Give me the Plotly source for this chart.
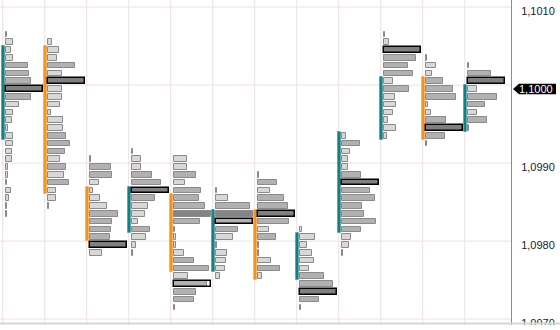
import plotly.graph_objects as go

TICK = 0.0001

# ---------------- data ----------------
# top price of each profile (price of first row), rows go down one tick each
profile_tops = [1.1007, 1.1006, 1.0991, 1.0992, 1.0991, 1.0987,
                1.0989, 1.0982, 1.0994, 1.1007, 1.1004, 1.1003]

# relative volume per price row (top to bottom)
vols_p1 = [1, 7.3, 5.3, 7.3, 22.3, 23.3, 25.3, 36.3, 25.3, 13.3, 7.3, 5.7,
           2.3, 6.7, 7.3, 5.7, 5.7, 2.3, 2, 1, 5.3, 3.3, 1, 1]
vols_p2 = [4.3, 10.7, 9.3, 27.3, 14.3, 36.7, 14.3, 14.3, 12.3, 3.3, 15.3,
           15.3, 18.3, 22.3, 17.3, 12.3, 18.3, 16.3, 21.3, 8.3, 8.3, 1]
vols_p3 = [1, 21.3, 22.3, 9.3, 3.3, 10.3, 17.3, 28.3, 22.3, 21.3, 20.3, 36.3, 12.3]
vols_p4 = [1, 8.7, 9.3, 20.3, 29.3, 36.7, 23.3, 16.3, 13.3, 6.3, 18.3, 14.3, 4.3, 1]
vols_p5 = [13.3, 13.3, 22.3, 11.3, 27.3, 25.3, 31.3, 36.7, 26.3, 1.5, 2, 2,
           10.3, 20.3, 35.3, 14.3, 32.7, 22.3, 20.3, 1]
vols_p6 = [1, 11.7, 33.7, 36.7, 36.7, 21.7, 16.7, 1, 10.7, 9.7, 8.7, 3.7]
vols_p7 = [1, 19.3, 12.3, 26.3, 30.3, 36.3, 31.3, 11.3, 18.3, 1, 1, 13.3, 22.3, 4.3]
vols_p8 = [2, 15.3, 7.3, 12.3, 14.3, 9.3, 24.3, 33.3, 36.3, 19.3, 1]
vols_p9 = [3.7, 18.3, 8.3, 5.7, 5.7, 19.3, 36.3, 28.3, 33.3, 20.3, 22.3,
           34.3, 19.3, 9.3, 7.3, 1]
vols_p10 = [1, 5.3, 36.7, 32.3, 24.3, 29.3, 9.3, 25.3, 11.3, 12.3, 9.3, 4.3, 12.3, 3.3]
vols_p11 = [1, 10.3, 6.3, 17.3, 27.3, 30.3, 2.3, 5.3, 20.3, 36.3, 19.3, 1]
vols_p12 = [1, 23.3, 36.7, 9.3, 29.3, 17.3, 9.3, 19.3, 1]

# row kind: t=thin, L=light, M=medium, P=point of control, D=dark, O=outlined
kinds_p1 = "tLLLMMMPMLLLLLLLLLLtLLtt"
kinds_p2 = "LLLMLPLLLLLLMMMLMLMLLt"
kinds_p3 = "tMMLLLLMMMMPL"
kinds_p4 = "tLLMMPMLLLMLLt"
kinds_p5 = "LLMLMMMDMLLLLMMLOMMt"
kinds_p6 = "tLMDOMLtLLLL"
kinds_p7 = "tMLMMPMLMttLML"
kinds_p8 = "LLLLLLMMPMt"
kinds_p9 = "LMLLLMPMMMMMMLLt"
kinds_p10 = "tLPMMMLMLLLLLL"
kinds_p11 = "tLLMMMLLMPMt"
kinds_p12 = "tMPLMMLMt"

opens = [1.0994, 1.1005, 1.0987, 1.0982, 1.0986, 1.0977,
         1.0984, 1.0976, 1.0982, 1.0994, 1.1001, 1.0995]
closes = [1.1005, 1.0987, 1.0981, 1.0987, 1.0977, 1.0984,
          1.0976, 1.0981, 1.0994, 1.1001, 1.0994, 1.1000]

tick_vals = [1.0970, 1.0980, 1.0990, 1.1000, 1.1010]
tick_text = ["1,0970", "1,0980", "1,0990", "1,1000", "1,1010"]
current_price = 1.1000
current_text = "1,1000"

all_vols = [vols_p1, vols_p2, vols_p3, vols_p4, vols_p5, vols_p6,
            vols_p7, vols_p8, vols_p9, vols_p10, vols_p11, vols_p12]
all_kinds = [kinds_p1, kinds_p2, kinds_p3, kinds_p4, kinds_p5, kinds_p6,
             kinds_p7, kinds_p8, kinds_p9, kinds_p10, kinds_p11, kinds_p12]

# axis labels: the current price label is drawn by the price marker instead
axis_vals = [v for v in tick_vals if abs(v - current_price) > TICK / 10]
axis_text = [t for v, t in zip(tick_vals, tick_text) if abs(v - current_price) > TICK / 10]

# ---------------- geometry / style ----------------
W, H = 560, 330
PLOT_R = 511          # px right edge of plot
PLOT_B = 325          # px bottom of plot
COL = 42.0            # px per column
X0PX = 2.7            # px of column 0
PX_PER_PRICE = 78000.0
Y_CUR_PX = 89.0
ymax = current_price + Y_CUR_PX / PX_PER_PRICE
ymin = current_price - (PLOT_B - Y_CUR_PX) / PX_PER_PRICE
xmin = -X0PX / COL
xmax = (PLOT_R - X0PX) / COL

POC_W = 36.5 / COL
BAR_OFF = 3.3 / COL
ROW_H = 0.72 * TICK

FILL = {"t": "#b0b0b0", "L": "#d8d8d8", "M": "#b1b1b1", "P": "#808080",
        "D": "#848484", "O": "#b1b1b1"}
EDGE = "#8a8a8a"
TEAL, TEAL_H = "#177f84", "rgba(23,127,132,0.35)"
ORANGE, ORANGE_H = "#f8901c", "rgba(248,144,28,0.35)"
GRID = "#f0e0e6"

fig = go.Figure()

# candle bodies (open-close)
cx, ch, cb, cc, ce = [], [], [], [], []
for i, (o, c) in enumerate(zip(opens, closes)):
    lo = min(o, c) - TICK / 2
    hi = max(o, c) + TICK / 2
    cx.append(i + 1.2 / COL)
    ch.append(hi - lo)
    cb.append(lo)
    up = c >= o
    cc.append(TEAL if up else ORANGE)
    ce.append(TEAL_H if up else ORANGE_H)
fig.add_trace(go.Bar(orientation="v", x=cx, y=ch, base=cb, width=3.0 / COL,
                     marker=dict(color=cc, line=dict(color=ce, width=1)),
                     hoverinfo="skip", showlegend=False))

# profile rows
bx, by, bb, bc = [], [], [], []
ox, oy, ob = [], [], []
for i, (top, vols, kinds) in enumerate(zip(profile_tops, all_vols, all_kinds)):
    vmax = max(vols)
    for j, (v, k) in enumerate(zip(vols, kinds)):
        price = round(top - j * TICK, 5)
        bx.append(v / vmax * POC_W)
        by.append(price)
        bb.append(i + BAR_OFF)
        bc.append(FILL[k])
        if k in "PO":
            ox.append(POC_W)
            oy.append(price)
            ob.append(i + BAR_OFF)
fig.add_trace(go.Bar(orientation="h", x=bx, y=by, base=bb, width=ROW_H,
                     marker=dict(color=bc, line=dict(color=EDGE, width=1)),
                     hoverinfo="skip", showlegend=False))
fig.add_trace(go.Bar(orientation="h", x=ox, y=oy, base=ob, width=ROW_H,
                     marker=dict(color="rgba(0,0,0,0)", line=dict(color="#000000", width=1.5)),
                     hoverinfo="skip", showlegend=False))

shapes = []
for t in tick_vals:
    shapes.append(dict(type="line", xref="paper", yref="y", x0=0, x1=1,
                       y0=t + TICK / 2, y1=t + TICK / 2,
                       line=dict(color=GRID, width=1), layer="below"))
for i in range(len(profile_tops)):
    shapes.append(dict(type="line", xref="x", yref="paper", x0=i, x1=i,
                       y0=0, y1=1, line=dict(color=GRID, width=1), layer="below"))


def px_x(p):
    return p / PLOT_R


def px_y(p):
    return 1 - p / PLOT_B


# bottom shadow and cover
shapes.append(dict(type="line", xref="paper", yref="paper", x0=0, x1=px_x(W),
                   y0=px_y(323.5), y1=px_y(323.5),
                   line=dict(color="#d6d6d6", width=2), layer="above"))
shapes.append(dict(type="rect", xref="paper", yref="paper", x0=-0.01, x1=px_x(W + 5),
                   y0=px_y(325), y1=px_y(H + 5), fillcolor="white",
                   line=dict(width=0), layer="above"))

# current price marker
yc = Y_CUR_PX
hh = 5.2
pts = [(513, yc), (519, yc - hh), (556, yc - hh), (556, yc + hh), (519, yc + hh)]
path = "M " + " L ".join(f"{px_x(a):.5f},{px_y(b):.5f}" for a, b in pts) + " Z"
shapes.append(dict(type="path", xref="paper", yref="paper", path=path,
                   fillcolor="#000000", line=dict(width=0), layer="above"))

fig.update_layout(
    width=W, height=H,
    margin=dict(l=0, r=W - PLOT_R, t=0, b=H - PLOT_B, pad=0),
    paper_bgcolor="white", plot_bgcolor="white",
    barmode="overlay", bargap=0,
    showlegend=False,
    shapes=shapes,
    font=dict(family="Liberation Sans, Arial, sans-serif", size=11, color="#1a1a30"),
    xaxis=dict(range=[xmin, xmax], visible=False, fixedrange=True),
    yaxis=dict(range=[ymin, ymax], side="right", tickvals=axis_vals, ticktext=axis_text,
               showgrid=False, zeroline=False, showline=True, linecolor="#8c8c8c",
               linewidth=1, ticks="", ticklabelstandoff=7, fixedrange=True,
               tickfont=dict(size=11, color="#1a1a30")),
    annotations=[dict(x=px_x(518), y=current_price, xref="paper", yref="y",
                      text=current_text, showarrow=False, xanchor="left",
                      yanchor="middle", borderpad=0,
                      font=dict(color="white", size=11,
                                family="Liberation Sans, Arial, sans-serif"))],
)

fig.write_html("out.html")
